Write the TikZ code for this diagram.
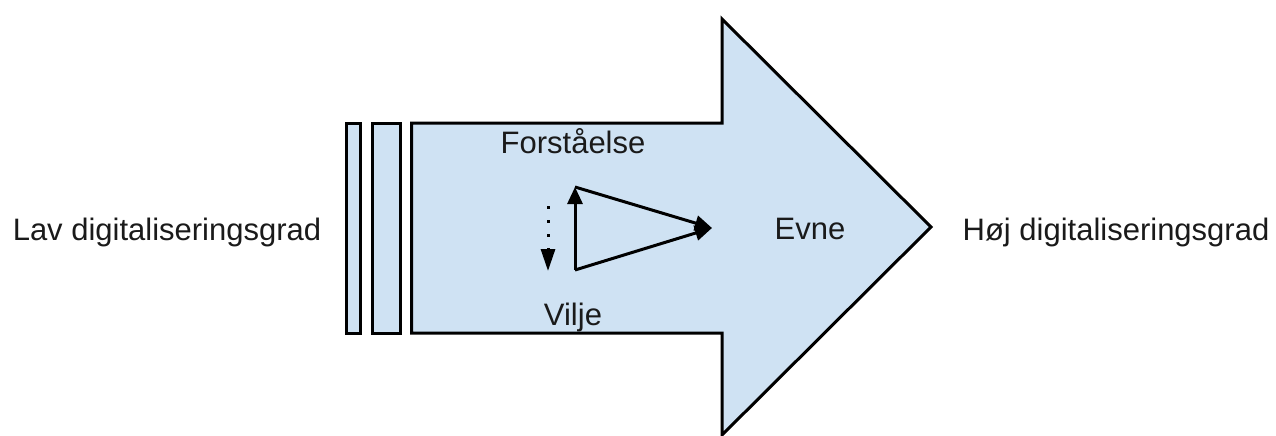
\documentclass[tikz,border=0pt]{standalone}
\usepackage{fontspec}
\setmainfont{Liberation Sans}
\usetikzlibrary{arrows.meta}
\definecolor{fillblue}{HTML}{CFE2F3}
\definecolor{inktext}{HTML}{1A1A1A}
\tikzset{
  outline/.style={draw=black, line width=3pt, fill=fillblue, line join=miter},
  label/.style={font=\fontsize{31}{36}\selectfont, text=inktext, inner sep=0pt, anchor=base},
  flow/.style={draw=black, line width=3pt, -{Triangle[length=17pt,width=15pt]}},
}
\begin{document}
\begin{tikzpicture}[x=1pt,y=-1pt]
  \useasboundingbox (0,0) rectangle (1276,436);

  % stacked bars behind the big arrow
  \draw[outline] (346.5,123) rectangle (360.5,333);
  \draw[outline] (372.5,123) rectangle (400,333);

  % the big arrow
  \draw[outline] (411.5,123) -- (722,123) -- (722,19) -- (931,227)
                 -- (722,435) -- (722,333) -- (411.5,333) -- cycle;

  % labels
  \node[label] (lav) at (167,240) {Lav digitaliseringsgrad};
  \node[label] (hoj) at (1116,240) {Høj digitaliseringsgrad};
  \node[label] (forst) at (573,153) {Forståelse};
  \node[label] (vilje) at (573,325) {Vilje};
  \node[label] (evne) at (810,239) {Evne};

  % triangle of arrows
  \coordinate (top) at (575,187);
  \coordinate (bot) at (575,270);
  \coordinate (tip) at (712,228);
  \draw[flow] (bot) -- (top);
  \draw[flow] (top) -- (tip);
  \draw[flow] (bot) -- (tip);

  % dotted downward arrow
  \coordinate (dtop) at (548,206);
  \coordinate (dbot) at (548,271);
  \draw[line width=3pt, dash pattern=on 3pt off 11pt,
        -{Triangle[length=22pt,width=14pt]}] (dtop) -- (dbot);
\end{tikzpicture}
\end{document}
